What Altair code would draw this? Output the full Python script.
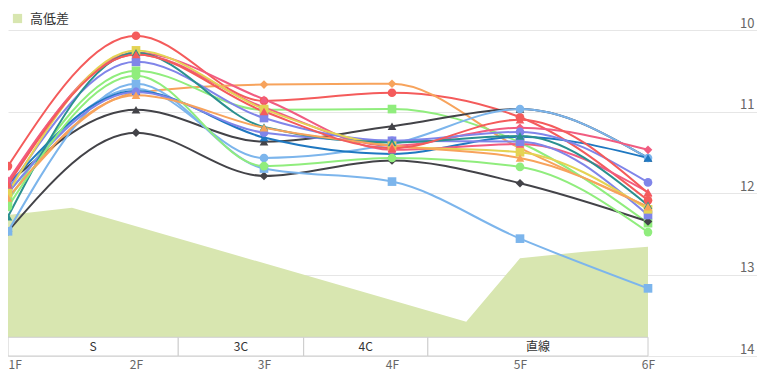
import json
import altair as alt
import pandas as pd

floors = ["1F", "2F", "3F", "4F", "5F", "6F"]

# elevation profile (高低差)
elev_x = [0, 0.5, 3.58, 4.0, 4.5, 5.0]
elev_y = [12.27, 12.18, 13.58, 12.80, 12.72, 12.66]
elev_base = 13.77

sections = ["S", "3C", "4C", "直線"]
section_start = [0, 1.33, 2.31, 3.28]
section_end = [1.33, 2.31, 3.28, 5.0]
band_top = 13.77
band_bottom = 14.0

s01 = [11.67, 10.07, 10.87, 10.77, 11.07, 12.09]
s02 = [12.06, 10.77, 10.67, 10.66, 11.45, 12.17]
s03 = [12.10, 10.50, 10.98, 10.97, 11.38, 12.37]
s04 = [11.88, 10.98, 11.37, 11.18, 10.97, 11.57]
s05 = [12.47, 11.26, 11.79, 11.60, 11.88, 12.35]
s06 = [12.47, 10.66, 11.70, 11.86, 12.56, 13.17]
s07 = [12.00, 10.72, 11.57, 11.40, 10.97, 11.57]
s08 = [11.90, 10.75, 11.32, 11.52, 11.31, 11.57]
s09 = [11.85, 10.30, 10.95, 11.42, 11.20, 11.47]
s10 = [11.88, 10.28, 10.85, 11.47, 11.40, 11.99]
s11 = [11.96, 10.39, 11.08, 11.36, 11.37, 12.27]
s12 = [12.00, 10.76, 11.26, 11.36, 11.25, 11.87]
s13 = [12.00, 10.25, 10.97, 11.42, 11.50, 12.20]
s14 = [12.29, 10.28, 11.19, 11.38, 11.30, 12.15]
s15 = [12.17, 10.56, 11.67, 11.57, 11.68, 12.48]
s16 = [12.06, 10.80, 11.20, 11.42, 11.57, 12.17]
s17 = [11.90, 10.30, 11.00, 11.45, 11.10, 12.00]

series_values = [s01, s02, s03, s04, s05, s06, s07, s08, s09, s10,
                 s11, s12, s13, s14, s15, s16, s17]
series_names = [f"s{i:02d}" for i in range(1, 18)]
series_colors = ["#f45b5b", "#f7a35c", "#90ed7d", "#434348", "#434348",
                 "#7cb5ec", "#7cb5ec", "#1f78c1", "#f15c80", "#f15c80",
                 "#8085e9", "#8085e9", "#e4d354", "#2b908f", "#90ed7d",
                 "#f7a35c", "#f45b5b"]
series_shapes = ["circle", "diamond", "square", "triangle-up", "diamond",
                 "square", "circle", "triangle-up", "diamond", "triangle-up",
                 "square", "circle", "square", "triangle-up", "circle",
                 "triangle-up", "triangle-up"]

rows = []
for name, vals in zip(series_names, series_values):
    for i, v in enumerate(vals):
        rows.append({"series": name, "x": i, "v": v})
lines_df = pd.DataFrame(rows)

elev_df = pd.DataFrame({"x": elev_x, "y": elev_y, "name": ["高低差"] * len(elev_x)})
sec_df = pd.DataFrame({"label": sections, "start": section_start, "end": section_end})
sec_df["mid"] = (sec_df["start"] + sec_df["end"]) / 2

W, H = 749, 326
xs = alt.Scale(domain=[0, W / 128], nice=False, zero=False)
ys = alt.Scale(domain=[10, 14], reverse=True, nice=False, zero=False)

x_axis = alt.Axis(values=list(range(6)), labelExpr=f"{json.dumps(floors)}[datum.value]",
                  domain=False, ticks=False, tickSize=0, grid=False, labelColor="#666666",
                  labelFontSize=12, labelPadding=3, labelFlush=True, title=None)
y_axis = alt.Axis(orient="right", values=[10, 11, 12, 13, 14], grid=True, gridColor="#e6e6e6",
                  domain=False, ticks=False, tickSize=0, labelAlign="right", labelPadding=-3,
                  labelBaseline="bottom", labelColor="#666666", labelFontSize=13, title=None)

area = alt.Chart(elev_df).mark_area(opacity=1).encode(
    x=alt.X("x:Q", scale=xs, axis=x_axis),
    y=alt.Y("y:Q", scale=ys, axis=y_axis),
    y2=alt.datum(elev_base),
    color=alt.Color("name:N", scale=alt.Scale(domain=["高低差"], range=["#d8e6b0"]),
                    legend=alt.Legend(orient="none", legendX=3, legendY=-18, title=None,
                                      symbolType="square", symbolSize=85, symbolOpacity=1,
                                      symbolStrokeWidth=0, labelFontSize=13, labelColor="#333333",
                                      labelOffset=6, padding=0)),
)

band = alt.Chart(sec_df).mark_rect(fill="white", stroke="#cccccc", strokeWidth=1).encode(
    x=alt.X("start:Q", scale=xs, axis=x_axis),
    x2="end:Q",
    y=alt.datum(band_top, scale=ys, axis=y_axis),
    y2=alt.datum(band_bottom),
)

band_text = alt.Chart(sec_df).mark_text(fontSize=12, color="#333333", baseline="middle").encode(
    x=alt.X("mid:Q", scale=xs, axis=x_axis),
    y=alt.datum((band_top + band_bottom) / 2, scale=ys, axis=y_axis),
    text="label:N",
)

cscale = alt.Scale(domain=series_names, range=series_colors)
sscale = alt.Scale(domain=series_names, range=series_shapes)

lines = alt.Chart(lines_df).mark_line(interpolate="monotone", strokeWidth=2).encode(
    x=alt.X("x:Q", scale=xs, axis=x_axis),
    y=alt.Y("v:Q", scale=ys, axis=y_axis),
    color=alt.Color("series:N", scale=cscale, legend=None),
    detail="series:N",
)

points = alt.Chart(lines_df).mark_point(filled=True, opacity=1, size=75).encode(
    x=alt.X("x:Q", scale=xs, axis=x_axis),
    y=alt.Y("v:Q", scale=ys, axis=y_axis),
    color=alt.Color("series:N", scale=cscale, legend=None),
    shape=alt.Shape("series:N", scale=sscale, legend=None),
)

chart = alt.layer(area, band, band_text, lines, points).resolve_scale(
    color="independent", shape="independent"
).properties(
    width=W, height=H,
    autosize=alt.AutoSizeParams(type="none"),
    padding={"left": 0, "top": 22, "right": 0, "bottom": 16},
).configure(
    font="Noto Sans CJK JP",
).configure_view(stroke=None)

chart.save("out.html", embed_options={"renderer": "svg", "actions": False})
